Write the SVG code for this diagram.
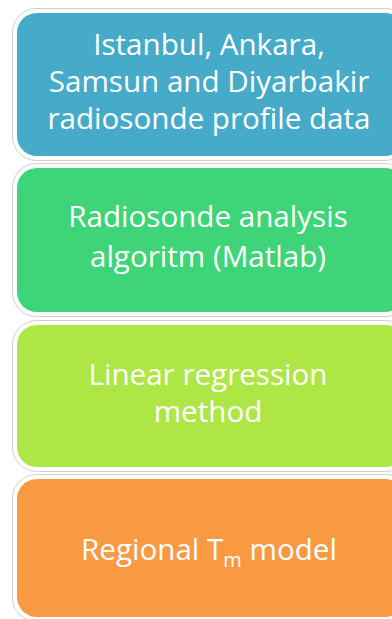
<svg xmlns="http://www.w3.org/2000/svg" width="392" height="619" viewBox="0 0 392 619">
  <style>
    .halo { fill: #ffffff; stroke: #cfcfcf; stroke-width: 1; }
    .box { stroke: none; }
    .lbl { font-family: "Open Sans", "Liberation Sans", sans-serif; font-size: 29.6px; fill: #ffffff; text-anchor: middle; }
  </style>
  <rect width="392" height="619" fill="#ffffff"/>

  <g id="node-data">
    <rect class="halo" x="12.5" y="8.5" width="397" height="152" rx="24"/>
    <rect class="box" x="17" y="13" width="388" height="143" rx="20" fill="#46abc8"/>
    <text class="lbl" x="209" y="55">Istanbul, Ankara,</text>
    <text class="lbl" x="209" y="92">Samsun and Diyarbakir</text>
    <text class="lbl" x="209" y="129">radiosonde profile data</text>
  </g>

  <g id="node-analysis">
    <rect class="halo" x="12.5" y="163.5" width="397" height="153" rx="24"/>
    <rect class="box" x="17" y="168" width="388" height="144" rx="20" fill="#3dd577"/>
    <text class="lbl" x="208" y="227">Radiosonde analysis</text>
    <text class="lbl" x="208" y="267">algoritm (Matlab)</text>
  </g>

  <g id="node-regression">
    <rect class="halo" x="12.5" y="320.5" width="397" height="151" rx="24"/>
    <rect class="box" x="17" y="325" width="388" height="142" rx="20" fill="#aee745"/>
    <text class="lbl" x="208" y="385">Linear regression</text>
    <text class="lbl" x="208" y="422">method</text>
  </g>

  <g id="node-model">
    <rect class="halo" x="12.5" y="474.5" width="397" height="147" rx="24"/>
    <rect class="box" x="17" y="479" width="388" height="138" rx="20" fill="#f99a43"/>
    <text class="lbl" x="209" y="560">Regional T<tspan font-size="20" dy="7">m</tspan><tspan dy="-7"> model</tspan></text>
  </g>

  <g id="connectors"></g>
</svg>
